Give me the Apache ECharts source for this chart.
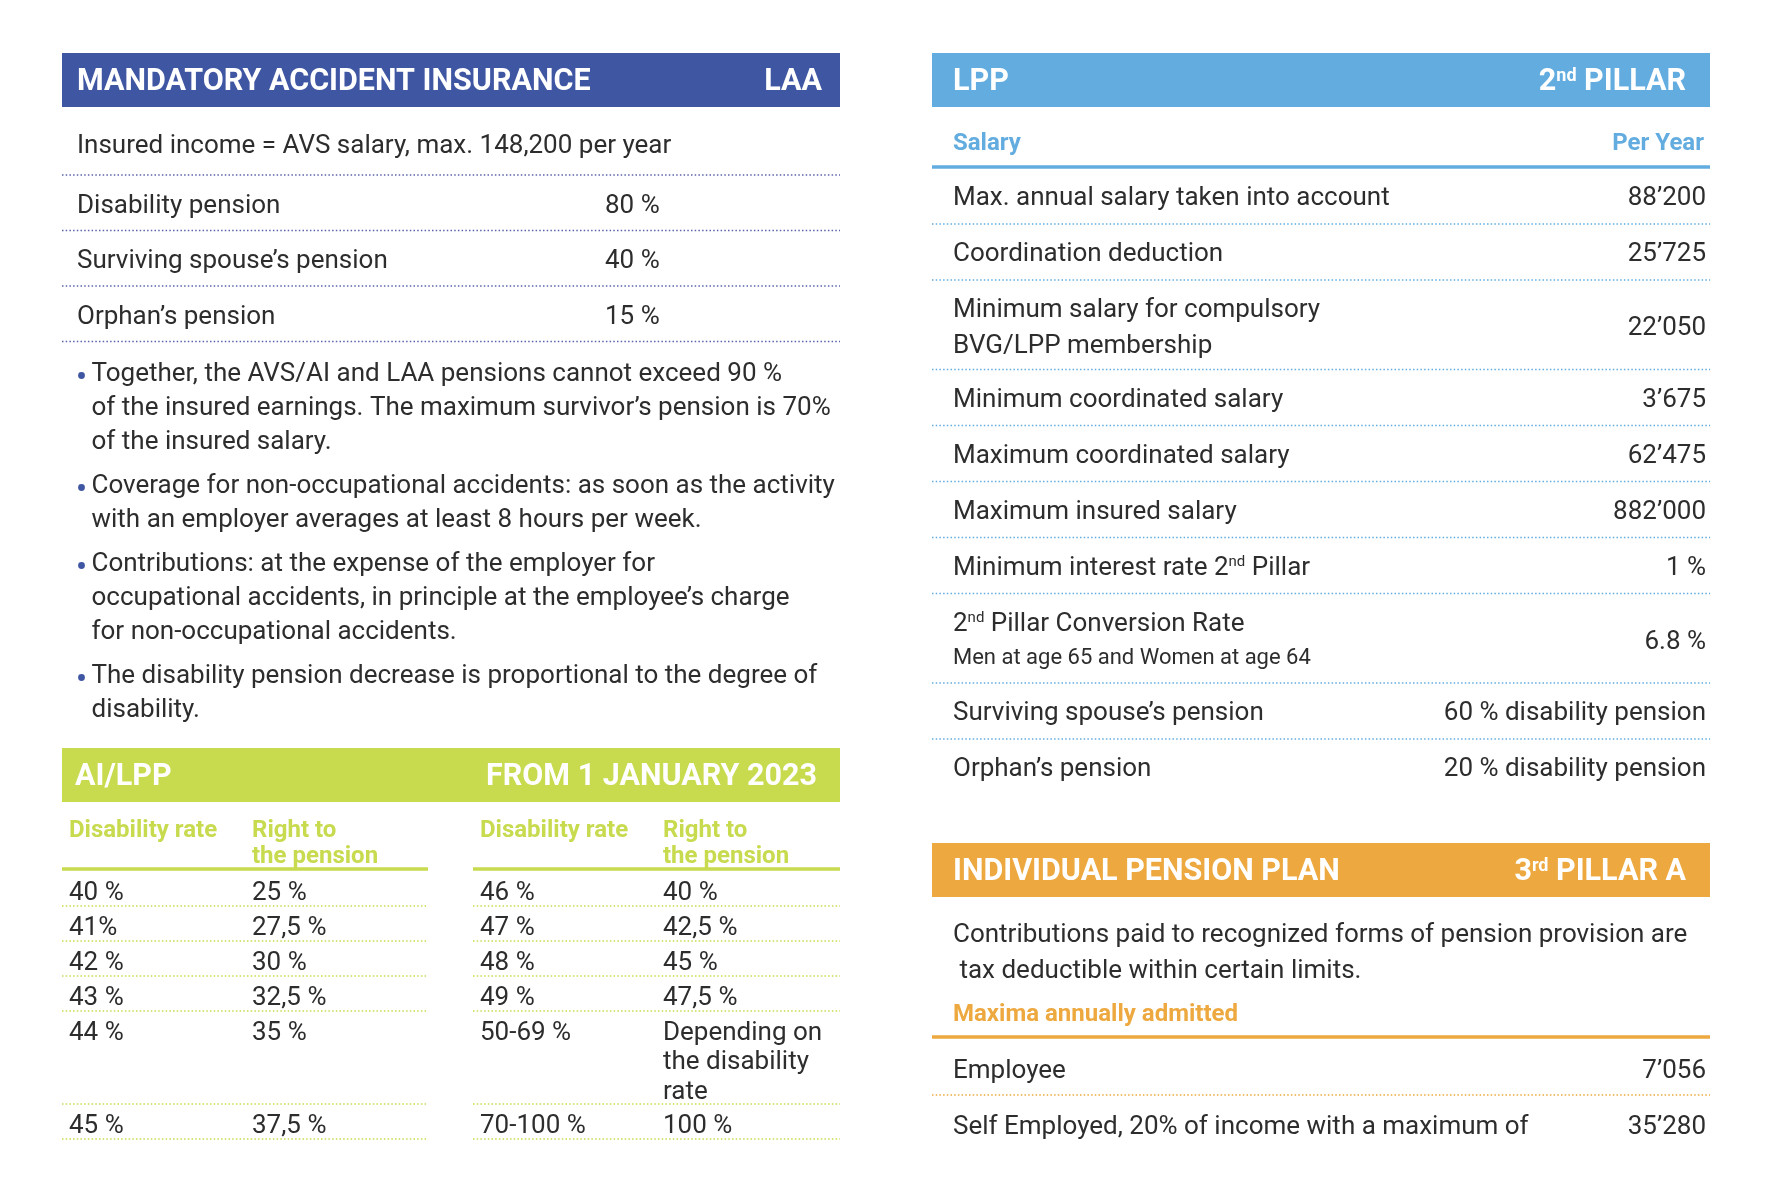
<!DOCTYPE html>
<html><head><meta charset="utf-8">
<script src="https://cdn.jsdelivr.net/npm/echarts@6/dist/echarts.min.js"></script>
<style>html,body{margin:0;padding:0;background:#fff}#c{width:1772px;height:1181px}</style>
</head><body><div id="c"></div>
<script>
// ---------- data ----------
const laaTitle = ['MANDATORY ACCIDENT INSURANCE', 'LAA'];
const laaIncome = 'Insured income = AVS salary, max. 148,200 per year';
const laaLabels = ['Disability pension', 'Surviving spouse’s pension', 'Orphan’s pension'];
const laaValues = ['80 %', '40 %', '15 %'];
const laaBullets = [
  ['Together, the AVS/AI and LAA pensions cannot exceed 90 %', 'of the insured earnings. The maximum survivor’s pension is 70%', 'of the insured salary.'],
  ['Coverage for non-occupational accidents: as soon as the activity', 'with an employer averages at least 8 hours per week.'],
  ['Contributions: at the expense of the employer for', 'occupational accidents, in principle at the employee’s charge', 'for non-occupational accidents.'],
  ['The disability pension decrease is proportional to the degree of', 'disability.']
];
const aiTitle = ['AI/LPP', 'FROM 1 JANUARY 2023'];
const aiHeads = ['Disability rate', 'Right to\nthe pension'];
const aiRateA = ['40 %', '41%', '42 %', '43 %', '44 %', '45 %'];
const aiPensionA = ['25 %', '27,5 %', '30 %', '32,5 %', '35 %', '37,5 %'];
const aiRateB = ['46 %', '47 %', '48 %', '49 %', '50-69 %', '70-100 %'];
const aiPensionB = ['40 %', '42,5 %', '45 %', '47,5 %', 'Depending on\nthe disability\nrate', '100 %'];
const lppTitle = ['LPP', '2nd PILLAR'];
const lppHeads = ['Salary', 'Per Year'];
const lppLabels = ['Max. annual salary taken into account', 'Coordination deduction',
  'Minimum salary for compulsory\nBVG/LPP membership', 'Minimum coordinated salary',
  'Maximum coordinated salary', 'Maximum insured salary', 'Minimum interest rate 2nd Pillar',
  '2nd Pillar Conversion Rate', 'Surviving spouse’s pension', 'Orphan’s pension'];
const lppNotes = ['', '', '', '', '', '', '', 'Men at age 65 and Women at age 64', '', ''];
const lppValues = ['88’200', '25’725', '22’050', '3’675', '62’475', '882’000', '1 %', '6.8 %',
  '60 % disability pension', '20 % disability pension'];
const p3Title = ['INDIVIDUAL PENSION PLAN', '3rd PILLAR A'];
const p3Intro = ['Contributions paid to recognized forms of pension provision are', ' tax deductible within certain limits.'];
const p3Head = 'Maxima annually admitted';
const p3Labels = ['Employee', 'Self Employed, 20% of income with a maximum of'];
const p3Values = ['7’056', '35’280'];

// ---------- styles ----------
const FF = 'Roboto, "Noto Sans", sans-serif';
const INK = '#2d2d2d', NAVY = '#3f56a3', NAVYDOT = '#5a64aa', SKY = '#62acdf', LIME = '#c8da4e', AMBER = '#eda93f';
const TY = 2.5; // baseline nudge for the font
const els = [];
function sup(s) { return s.replace(/(\d)(st|nd|rd|th)\b/g, '$1{s|$2}'); }
function text(x, y, s, o) {
  o = o || {};
  const size = o.size || 26, col = o.color || INK, w = o.weight || 'normal';
  els.push({
    type: 'text', x: x, y: y + TY, silent: true,
    style: {
      text: sup(s), x: 0, y: 0, fill: col, fontFamily: FF, fontSize: size, fontWeight: w,
      align: o.align || 'left', verticalAlign: 'middle',
      rich: { s: { fontSize: Math.round(size * 0.58), fontFamily: FF, fontWeight: w, fill: col, verticalAlign: 'top' } }
    }
  });
}
function hline(x1, x2, y, color, lw, dash) {
  els.push({ type: 'line', silent: true, shape: { x1: x1, y1: y, x2: x2, y2: y },
    style: { stroke: color, lineWidth: lw, lineDash: dash ? [1.5, 2.2] : null } });
}
function rect(x, y, w, h, color) {
  els.push({ type: 'rect', silent: true, shape: { x: x, y: y, width: w, height: h }, style: { fill: color } });
}
function dot(x, y, r, color) {
  els.push({ type: 'circle', silent: true, shape: { cx: x, cy: y, r: r }, style: { fill: color } });
}
function header(x0, x1, y, color, title, tx, rx) {
  rect(x0, y, x1 - x0, 54, color);
  text(tx, y + 27, title[0], { size: 30.5, weight: 'bold', color: '#fff' });
  text(rx, y + 27, title[1], { size: 30.5, weight: 'bold', color: '#fff', align: 'right' });
}

// ---------- LAA ----------
const L0 = 62, L1 = 840, R0 = 932, R1 = 1710;
header(L0, L1, 53, NAVY, laaTitle, 77, 822);
text(77, 143.5, laaIncome);
hline(L0, L1, 175, NAVYDOT, 1.5, true);
laaLabels.forEach(function (lab, i) {
  const top = 175 + i * 55.5;
  text(77, top + 28.5, lab);
  text(605, top + 28.5, laaValues[i]);
  hline(L0, L1, top + 55.5, NAVYDOT, 1.5, true);
});
let by = 372;
laaBullets.forEach(function (para) {
  para.forEach(function (line, j) {
    if (j === 0) dot(81.5, by + 1 + TY, 3.4, NAVY);
    text(91.5, by, line);
    by += 34;
  });
  by += 10;
});

// ---------- AI/LPP ----------
header(L0, L1, 748, LIME, aiTitle, 75, 817);
const tables = [
  { x0: L0, x1: 428, c1: 69, c2: 252, rates: aiRateA, pens: aiPensionA },
  { x0: 473, x1: L1, c1: 480, c2: 663, rates: aiRateB, pens: aiPensionB }
];
const nLines = aiRateA.map(function (_, i) {
  return Math.max(aiRateA[i].split('\n').length, aiPensionA[i].split('\n').length,
    aiRateB[i].split('\n').length, aiPensionB[i].split('\n').length);
});
tables.forEach(function (t) {
  text(t.c1, 828, aiHeads[0], { size: 24, weight: 'bold', color: LIME });
  aiHeads[1].split('\n').forEach(function (l, k) { text(t.c2, 828 + k * 26, l, { size: 24, weight: 'bold', color: LIME }); });
  hline(t.x0, t.x1, 869, LIME, 3.5, false);
  let top = 871;
  t.rates.forEach(function (r, i) {
    r.split('\n').forEach(function (l, k) { text(t.c1, top + 19.5 + k * 29.5, l); });
    t.pens[i].split('\n').forEach(function (l, k) { text(t.c2, top + 19.5 + k * 29.5, l); });
    const h = 35 + (nLines[i] - 1) * 29;
    hline(t.x0, t.x1, top + h, LIME, 1.5, true);
    top += h;
  });
});

// ---------- LPP ----------
header(R0, R1, 53, SKY, lppTitle, 953, 1686);
text(953, 141, lppHeads[0], { size: 24, weight: 'bold', color: SKY });
text(1704, 141, lppHeads[1], { size: 24, weight: 'bold', color: SKY, align: 'right' });
hline(R0, R1, 167, SKY, 3.5, false);
let ly = 168;
lppLabels.forEach(function (lab, i) {
  const lines = lab.split('\n');
  const n = lines.length + (lppNotes[i] ? 1 : 0);
  lines.forEach(function (l, k) { text(953, ly + 28 + k * 36, l); });
  if (lppNotes[i]) text(953, ly + 62, lppNotes[i], { size: 22 });
  text(1706, ly + (n > 1 ? 46 : 28), lppValues[i], { align: 'right' });
  const h = n > 1 ? 89.5 : 56;
  if (i < lppLabels.length - 1) hline(R0, R1, ly + h, SKY, 1.5, true);
  ly += h;
});

// ---------- 3rd pillar ----------
header(R0, R1, 843, AMBER, p3Title, 953, 1686);
p3Intro.forEach(function (l, k) { text(953, 933 + k * 35.5, l); });
text(953, 1012.5, p3Head, { size: 24, weight: 'bold', color: AMBER });
hline(R0, R1, 1037, AMBER, 3.5, false);
p3Labels.forEach(function (lab, i) {
  const top = 1039 + i * 56;
  text(953, top + 30, lab);
  text(1706, top + 30, p3Values[i], { align: 'right' });
  if (i < p3Labels.length - 1) hline(R0, R1, top + 56, AMBER, 1.5, true);
});

const chart = echarts.init(document.getElementById('c'), null, { renderer: 'canvas', width: 1772, height: 1181 });
chart.setOption({ backgroundColor: '#ffffff', animation: false, graphic: { elements: els } });
</script></body></html>
